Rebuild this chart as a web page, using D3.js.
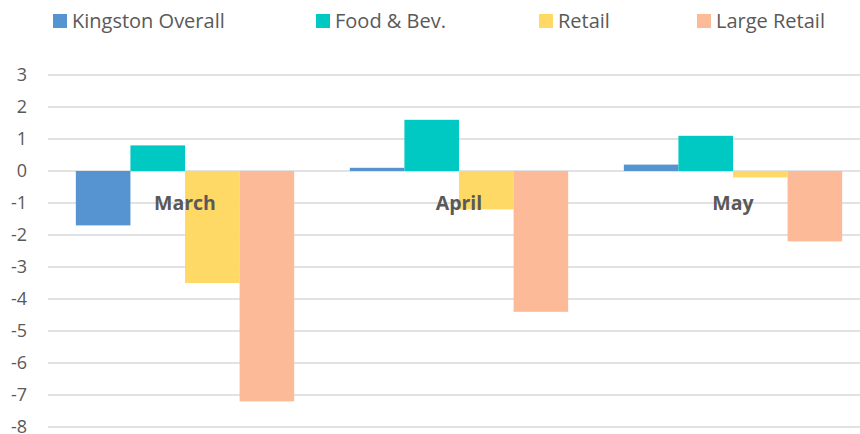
<!DOCTYPE html>
<html>
<head>
<meta charset="utf-8">
<script src="https://cdn.jsdelivr.net/npm/d3@7"></script>
<style>
  body { margin: 0; background: #fff; }
  svg { display: block; font-family: "Open Sans", sans-serif; }
</style>
</head>
<body>
<div id="chart"></div>
<script>
const months = ["March", "April", "May"];
const seriesNames = ["Kingston Overall", "Food & Bev.", "Retail", "Large Retail"];
const seriesColors = ["#5593D1", "#00C8C3", "#FFD966", "#FDBA98"];
const kingstonOverall = [-1.7, 0.1, 0.2];
const foodBev = [0.8, 1.6, 1.1];
const retail = [-3.5, -1.2, -0.2];
const largeRetail = [-7.2, -4.4, -2.2];
const yTicks = [3, 2, 1, 0, -1, -2, -3, -4, -5, -6, -7, -8];

const seriesValues = [kingstonOverall, foodBev, retail, largeRetail];

const width = 860, height = 434;
const margin = { top: 75, right: -10, bottom: 7, left: 48 };

const svg = d3.select("#chart").append("svg")
  .attr("width", width)
  .attr("height", height);

const x0 = d3.scaleBand()
  .domain(months)
  .range([margin.left, width - margin.right]);

// bars fill about 4/5 of each category, Excel-like gap on each side
const x1 = d3.scaleBand()
  .domain(seriesNames)
  .range([0, x0.bandwidth()])
  .paddingOuter(0.51)
  .paddingInner(0);

const y = d3.scaleLinear()
  .domain([-8, 3])
  .range([height - margin.bottom, margin.top]);

// gridlines
svg.append("g")
  .selectAll("line")
  .data(yTicks)
  .join("line")
  .attr("x1", margin.left)
  .attr("x2", width)
  .attr("y1", d => y(d))
  .attr("y2", d => y(d))
  .attr("stroke", "#D9D9D9")
  .attr("stroke-width", 1.3);

// y tick labels
svg.append("g")
  .selectAll("text")
  .data(yTicks)
  .join("text")
  .attr("x", 27)
  .attr("y", d => y(d))
  .attr("dy", "0.36em")
  .attr("text-anchor", "end")
  .attr("fill", "#595959")
  .attr("font-size", 18)
  .text(d => d);

// bars
const groups = svg.append("g")
  .selectAll("g")
  .data(months)
  .join("g")
  .attr("transform", d => `translate(${x0(d)},0)`);

groups.selectAll("rect")
  .data((m, i) => seriesNames.map((s, j) => ({ s, v: seriesValues[j][i], c: seriesColors[j] })))
  .join("rect")
  .attr("x", d => x1(d.s))
  .attr("width", x1.bandwidth())
  .attr("y", d => y(Math.max(0, d.v)))
  .attr("height", d => Math.abs(y(d.v) - y(0)))
  .attr("fill", d => d.c);

// category labels
svg.append("g")
  .selectAll("text")
  .data(months)
  .join("text")
  .attr("x", d => x0(d) + x0.bandwidth() / 2)
  .attr("y", y(0) + 39)
  .attr("text-anchor", "middle")
  .attr("fill", "#595959")
  .attr("font-weight", "bold")
  .attr("font-size", 19.5)
  .text(d => d);

// legend
const legendX = [53, 316, 539, 697];
const legend = svg.append("g")
  .selectAll("g")
  .data(seriesNames)
  .join("g")
  .attr("transform", (d, i) => `translate(${legendX[i]},21)`);

legend.append("rect")
  .attr("x", 0)
  .attr("y", -7)
  .attr("width", 14)
  .attr("height", 14)
  .attr("fill", (d, i) => seriesColors[i]);

legend.append("text")
  .attr("x", 19)
  .attr("y", 0)
  .attr("dy", "0.36em")
  .attr("fill", "#595959")
  .attr("font-size", 20)
  .text(d => d);
</script>
</body>
</html>
